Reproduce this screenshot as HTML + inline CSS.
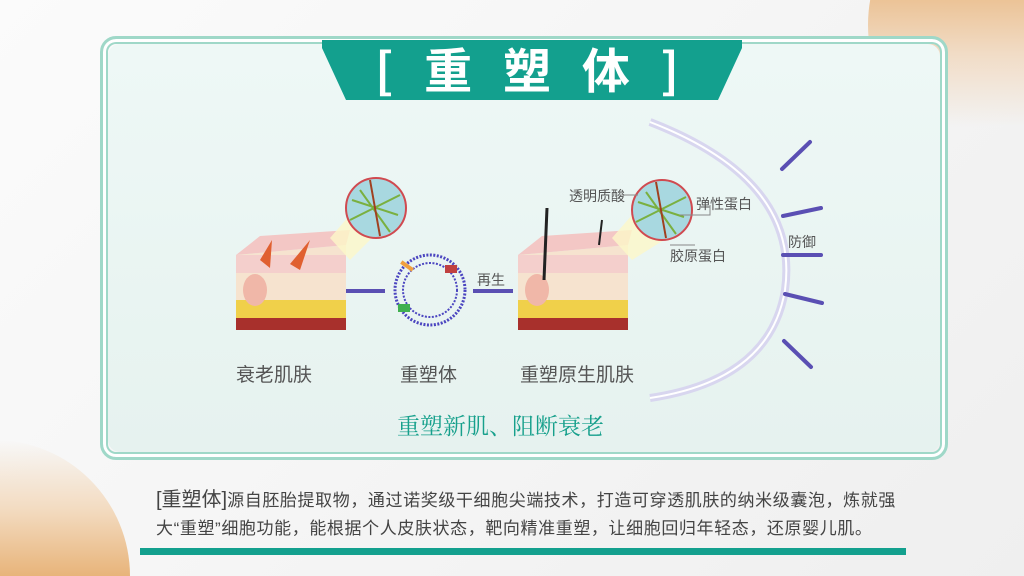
<!DOCTYPE html>
<html><head><meta charset="utf-8"><style>
html,body{margin:0;width:1024px;height:576px;overflow:hidden}
body{background:linear-gradient(135deg,#fbfbfb,#efefef);font-family:"Liberation Sans","Noto Sans CJK SC",sans-serif;position:relative}
.wrap{position:absolute;left:0;top:0;width:1024px;height:576px;overflow:hidden}
.c1{position:absolute;left:868px;top:-120px;width:290px;height:290px;border-radius:50%;background:linear-gradient(180deg,#e8b47a 30%,#f1dcc6 60%,rgba(240,235,230,0) 85%)}
.c2{position:absolute;left:-200px;top:440px;width:330px;height:136px;border-radius:165px 165px 0 0;background:linear-gradient(180deg,rgba(240,232,225,0) 0%,#f3dcc2 50%,#e8b47a 100%)}
.frame{position:absolute;left:100px;top:36px;width:842px;height:418px;border:3px solid #9fd8c8;border-radius:16px;box-shadow:inset 0 0 0 3px #fff,inset 0 0 0 5px #9fd8c8}
.panel{position:absolute;left:108px;top:44px;width:832px;height:408px;border-radius:12px;background:linear-gradient(180deg,#eef8f6,#e6f2ef)}
.t{position:absolute;white-space:nowrap}
</style></head><body><div class="wrap">
<div class="c1"></div><div class="c2"></div>
<div class="panel"></div><div class="frame"></div>
<svg width="1024" height="576" style="position:absolute;left:0;top:0">
<polygon points="322,40 742,40 742,48 718,100 346,100 322,48" fill="#13a08e"/>
<text x="532" y="88" text-anchor="middle" font-family="Noto Sans CJK SC" font-weight="bold" font-size="48" fill="#fff" letter-spacing="10">[ 重 塑 体 ]</text>
<path d="M650,122 Q800,180 785,290 Q770,380 650,398" fill="none" stroke="#d8d6ef" stroke-width="8"/>
<path d="M650,122 Q800,180 785,290 Q770,380 650,398" fill="none" stroke="#fff" stroke-width="2"/>
<g stroke="#5a4fb3" stroke-width="4" stroke-linecap="round">
<line x1="782" y1="169" x2="810" y2="142"/><line x1="783" y1="216" x2="821" y2="208"/><line x1="783" y1="255" x2="821" y2="255"/>
<line x1="785" y1="294" x2="822" y2="303"/><line x1="784" y1="341" x2="811" y2="367"/>
</g>
<line x1="345" y1="291" x2="385" y2="291" stroke="#5a4fb3" stroke-width="4"/>
<line x1="473" y1="291" x2="513" y2="291" stroke="#5a4fb3" stroke-width="4"/>
<circle cx="430" cy="290" r="35" fill="none" stroke="#4b45c0" stroke-width="3" stroke-dasharray="2 1.5"/>
<circle cx="430" cy="290" r="27" fill="none" stroke="#4b45c0" stroke-width="2" stroke-dasharray="2 1.5"/>
<rect x="400" y="264" width="14" height="4" fill="#f0a040" transform="rotate(35 407 266)"/>
<rect x="445" y="265" width="12" height="8" fill="#c04040"/>
<rect x="398" y="304" width="12" height="8" fill="#40b050"/>
<g>
<polygon points="236,255 346,245 346,325 236,330" fill="#f6e3cf"/>
<polygon points="236,255 260,236 350,230 346,245" fill="#f3c7c5"/>
<rect x="236" y="255" width="110" height="18" fill="#f4cfcc"/>
<rect x="236" y="300" width="110" height="18" fill="#f0d04a"/>
<rect x="236" y="318" width="110" height="12" fill="#a8302c"/>
<ellipse cx="255" cy="290" rx="12" ry="16" fill="#f0b7a8"/>
<polygon points="260,260 272,240 270,268" fill="#e06030"/><polygon points="290,264 310,240 300,270" fill="#e06030"/>
</g>
<g transform="translate(282,0)">
<polygon points="236,255 346,245 346,325 236,330" fill="#f6e3cf"/>
<polygon points="236,255 260,236 350,230 346,245" fill="#f3c7c5"/>
<rect x="236" y="255" width="110" height="18" fill="#f4cfcc"/>
<rect x="236" y="300" width="110" height="18" fill="#f0d04a"/>
<rect x="236" y="318" width="110" height="12" fill="#a8302c"/>
<ellipse cx="255" cy="290" rx="12" ry="16" fill="#f0b7a8"/>
<line x1="262" y1="280" x2="265" y2="208" stroke="#222" stroke-width="3"/>
<line x1="317" y1="245" x2="320" y2="220" stroke="#222" stroke-width="2"/>
</g>
<polygon points="330,238 350,215 395,215 350,260" fill="#fdf7c8" opacity=".8"/>
<polygon points="612,238 632,215 680,230 632,260" fill="#fdf7c8" opacity=".8"/>
<circle cx="376" cy="208" r="30" fill="#a8d8e0" stroke="#d04a50" stroke-width="2"/>
<path d="M352,200 L398,215 M360,190 L390,232 M350,220 L400,195" stroke="#7ab040" stroke-width="2"/>
<path d="M370,180 L380,236" stroke="#a04020" stroke-width="2"/>
<circle cx="662" cy="210" r="30" fill="#a8d8e0" stroke="#d04a50" stroke-width="2"/>
<path d="M638,202 L684,217 M646,192 L676,234 M636,222 L686,197" stroke="#7ab040" stroke-width="2"/>
<path d="M656,182 L666,238" stroke="#a04020" stroke-width="2"/>
<g stroke="#888" fill="none" stroke-width="1"><path d="M620,195 L638,195"/><path d="M680,215 L710,215 L710,205"/><path d="M670,245 L695,245"/></g>
</svg>
<div class="t" style="left:569px;top:186px;font-size:14px;color:#555">透明质酸</div>
<div class="t" style="left:696px;top:194px;font-size:14px;color:#555">弹性蛋白</div>
<div class="t" style="left:670px;top:246px;font-size:14px;color:#555">胶原蛋白</div>
<div class="t" style="left:788px;top:232px;font-size:14px;color:#555">防御</div>
<div class="t" style="left:477px;top:270px;font-size:14px;color:#555">再生</div>
<div class="t" style="left:236px;top:360px;font-size:19px;color:#555">衰老肌肤</div>
<div class="t" style="left:400px;top:360px;font-size:19px;color:#555">重塑体</div>
<div class="t" style="left:520px;top:360px;font-size:19px;color:#555">重塑原生肌肤</div>
<div class="t" style="left:397px;top:408px;font-size:23px;color:#17a08c;font-family:'Liberation Serif','Noto Serif CJK SC',serif">重塑新肌、阻断衰老</div>
<div class="t" style="left:156px;top:486px;font-size:17px;letter-spacing:0.6px;color:#444;line-height:28px"><span style="font-size:20px;letter-spacing:0">[重塑体]</span>源自胚胎提取物，通过诺奖级干细胞尖端技术，打造可穿透肌肤的纳米级囊泡，炼就强<br>大“重塑”细胞功能，能根据个人皮肤状态，靶向精准重塑，让细胞回归年轻态，还原婴儿肌。</div>
<div style="position:absolute;left:140px;top:548px;width:766px;height:7px;background:#13a08e"></div>
</div></body></html>
